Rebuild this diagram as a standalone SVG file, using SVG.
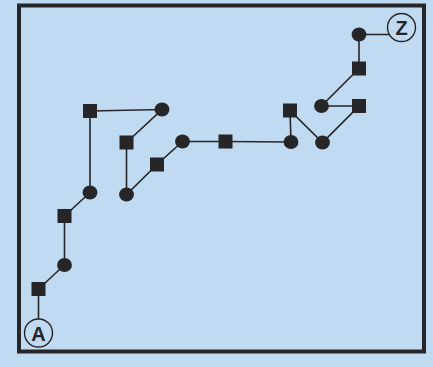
<svg xmlns="http://www.w3.org/2000/svg" width="433" height="367" viewBox="0 0 433 367">
<style>
.bg{fill:#bfdaf1}
.frame{fill:none;stroke:#262628;stroke-width:4}
.edge{stroke:#262628;stroke-width:1.6;fill:none}
.sq{fill:#262628}
.dot{fill:#262628}
.term circle{fill:#bfdaf1;stroke:#262628;stroke-width:1.4}
.term text{font-family:"Liberation Sans",Arial,sans-serif;font-weight:bold;font-size:20px;fill:#262628;text-anchor:middle}
</style>
<rect class="bg" x="0" y="0" width="433" height="367"/>
<rect class="frame" x="19" y="5.5" width="405" height="346"/>
<g id="connectors">
<polyline class="edge" points="38.5,333 38.5,289 64.5,265 64.5,216 90,192.5 90,111 162,109.5 126.5,142.5 126.5,194.5 157,164.5 182.5,141.5 225.5,141.5 291,142 290,110.5 322.5,142.5 359,106 321.5,106 359,68.5 359,34.5 401.5,34.5"/>
</g>
<g id="A" class="term"><circle cx="38.5" cy="333" r="14"/><text x="38.5" y="340.5">A</text></g>
<g id="Z" class="term"><circle cx="401.5" cy="27.5" r="14"/><text x="401.5" y="35">Z</text></g>
<g id="s1"><rect class="sq" x="31.5" y="282" width="14" height="14"/></g>
<g id="c1"><ellipse class="dot" cx="64.5" cy="265" rx="7.4" ry="7.1"/></g>
<g id="s2"><rect class="sq" x="57.5" y="209" width="14" height="14"/></g>
<g id="c2"><ellipse class="dot" cx="90" cy="192.5" rx="7.4" ry="7.1"/></g>
<g id="s3"><rect class="sq" x="83" y="104" width="14" height="14"/></g>
<g id="c3"><ellipse class="dot" cx="162" cy="109.5" rx="7.4" ry="7.1"/></g>
<g id="s4"><rect class="sq" x="119.5" y="135.5" width="14" height="14"/></g>
<g id="c4"><ellipse class="dot" cx="126.5" cy="194.5" rx="7.4" ry="7.1"/></g>
<g id="s5"><rect class="sq" x="150" y="157.5" width="14" height="14"/></g>
<g id="c5"><ellipse class="dot" cx="182.5" cy="141.5" rx="7.4" ry="7.1"/></g>
<g id="s6"><rect class="sq" x="218.5" y="134.5" width="14" height="14"/></g>
<g id="c6"><ellipse class="dot" cx="291" cy="142" rx="7.4" ry="7.1"/></g>
<g id="s7"><rect class="sq" x="283" y="103.5" width="14" height="14"/></g>
<g id="c7"><ellipse class="dot" cx="322.5" cy="142.5" rx="7.4" ry="7.1"/></g>
<g id="s8"><rect class="sq" x="352" y="99" width="14" height="14"/></g>
<g id="c8"><ellipse class="dot" cx="321.5" cy="106" rx="7.4" ry="7.1"/></g>
<g id="s9"><rect class="sq" x="352" y="61.5" width="14" height="14"/></g>
<g id="c9"><ellipse class="dot" cx="359" cy="34.5" rx="7.4" ry="7.1"/></g>
</svg>
